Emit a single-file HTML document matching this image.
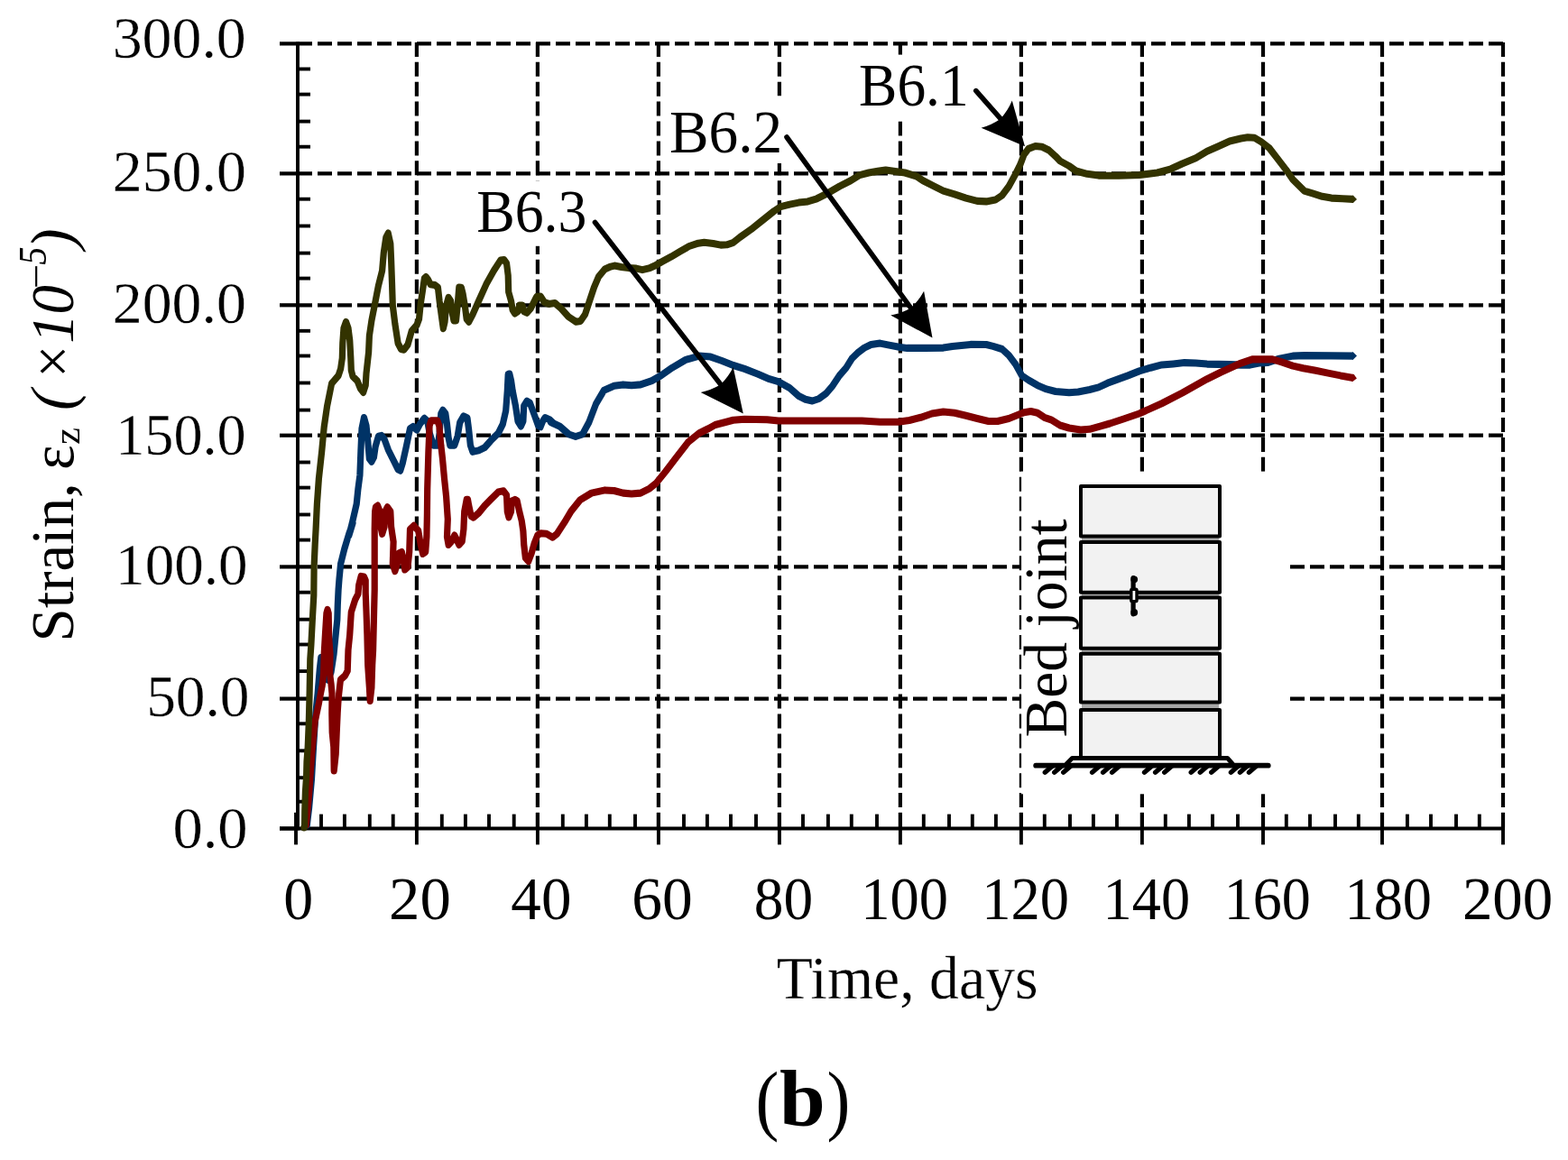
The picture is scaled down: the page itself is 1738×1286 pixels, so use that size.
<!DOCTYPE html>
<html lang="en"><head><meta charset="utf-8"><title>Strain vs time (b)</title>
<style>html,body{margin:0;padding:0;background:#fff}body{width:1738px;height:1286px;overflow:hidden}svg{display:block}text{font-family:"Liberation Serif","DejaVu Serif",serif;fill:#000}</style></head><body>
<svg width="1738" height="1286" viewBox="0 0 1738 1286">
<rect width="1738" height="1286" fill="#fff"/>
<g stroke="#000" stroke-width="4.2" stroke-dasharray="16 6" fill="none">
<line x1="330" y1="774.6" x2="1668" y2="774.6"/>
<line x1="330" y1="628.4" x2="1668" y2="628.4"/>
<line x1="330" y1="482.7" x2="1668" y2="482.7"/>
<line x1="330" y1="338.3" x2="1668" y2="338.3"/>
<line x1="330" y1="192.4" x2="1668" y2="192.4"/>
<line x1="330" y1="48.4" x2="1668" y2="48.4"/>
</g>
<g stroke="#000" stroke-width="4.2" stroke-dasharray="16 5.9" fill="none">
<line x1="461.9" y1="46.9" x2="461.9" y2="918.5"/>
<line x1="595.9" y1="46.9" x2="595.9" y2="918.5"/>
<line x1="729.9" y1="46.9" x2="729.9" y2="918.5"/>
<line x1="863.9" y1="46.9" x2="863.9" y2="918.5"/>
<line x1="997.9" y1="46.9" x2="997.9" y2="918.5"/>
<line x1="1131.9" y1="46.9" x2="1131.9" y2="918.5"/>
<line x1="1265.9" y1="46.9" x2="1265.9" y2="918.5"/>
<line x1="1400" y1="46.9" x2="1400" y2="918.5"/>
<line x1="1532" y1="46.9" x2="1532" y2="918.5"/>
<line x1="1666" y1="46.9" x2="1666" y2="918.5"/>
</g>
<g fill="#fff">
<rect x="945" y="60.6" width="135" height="73.8"/>
<rect x="740" y="106.3" width="130" height="74.7"/>
<rect x="525" y="200.3" width="130" height="72.5"/>
<rect x="1132.1" y="522.8" width="296" height="357.5"/>
</g>
<g stroke="#000" stroke-width="3.9" fill="none">
<line x1="330" y1="46.4" x2="330" y2="920.4"/>
<line x1="310" y1="918.5" x2="1668" y2="918.5"/>
<line x1="310" y1="48.4" x2="330" y2="48.4" stroke-width="4.2"/>
<line x1="330" y1="76.5" x2="344" y2="76.5"/>
<line x1="330" y1="104.6" x2="344" y2="104.6"/>
<line x1="330" y1="134.6" x2="344" y2="134.6"/>
<line x1="330" y1="162.7" x2="344" y2="162.7"/>
<line x1="310" y1="192.4" x2="330" y2="192.4" stroke-width="4.2"/>
<line x1="330" y1="220.7" x2="344" y2="220.7"/>
<line x1="330" y1="250.5" x2="344" y2="250.5"/>
<line x1="330" y1="280.6" x2="344" y2="280.6"/>
<line x1="330" y1="308.6" x2="344" y2="308.6"/>
<line x1="310" y1="338.3" x2="330" y2="338.3" stroke-width="4.2"/>
<line x1="330" y1="366.8" x2="344" y2="366.8"/>
<line x1="330" y1="394.5" x2="344" y2="394.5"/>
<line x1="330" y1="424.5" x2="344" y2="424.5"/>
<line x1="330" y1="454.6" x2="344" y2="454.6"/>
<line x1="310" y1="482.7" x2="330" y2="482.7" stroke-width="4.2"/>
<line x1="330" y1="512.5" x2="344" y2="512.5"/>
<line x1="330" y1="540.6" x2="344" y2="540.6"/>
<line x1="330" y1="570.5" x2="344" y2="570.5"/>
<line x1="330" y1="598.6" x2="344" y2="598.6"/>
<line x1="310" y1="628.4" x2="330" y2="628.4" stroke-width="4.2"/>
<line x1="330" y1="656.7" x2="344" y2="656.7"/>
<line x1="330" y1="686.7" x2="344" y2="686.7"/>
<line x1="330" y1="714.5" x2="344" y2="714.5"/>
<line x1="330" y1="744.1" x2="344" y2="744.1"/>
<line x1="310" y1="774.6" x2="330" y2="774.6" stroke-width="4.2"/>
<line x1="330" y1="802.3" x2="344" y2="802.3"/>
<line x1="330" y1="832.3" x2="344" y2="832.3"/>
<line x1="330" y1="862.2" x2="344" y2="862.2"/>
<line x1="330" y1="888.7" x2="344" y2="888.7"/>
<line x1="310" y1="918.5" x2="330" y2="918.5" stroke-width="4.2"/>
<line x1="328" y1="900.8" x2="328" y2="936.4"/>
<line x1="461.9" y1="900.8" x2="461.9" y2="936.4"/>
<line x1="595.9" y1="900.8" x2="595.9" y2="936.4"/>
<line x1="729.9" y1="900.8" x2="729.9" y2="936.4"/>
<line x1="863.9" y1="900.8" x2="863.9" y2="936.4"/>
<line x1="997.9" y1="900.8" x2="997.9" y2="936.4"/>
<line x1="1131.9" y1="900.8" x2="1131.9" y2="936.4"/>
<line x1="1265.9" y1="900.8" x2="1265.9" y2="936.4"/>
<line x1="1400" y1="900.8" x2="1400" y2="936.4"/>
<line x1="1532" y1="900.8" x2="1532" y2="936.4"/>
<line x1="1666" y1="900.8" x2="1666" y2="936.4"/>
<line x1="356" y1="902.6" x2="356" y2="918.5"/>
<line x1="381.9" y1="902.6" x2="381.9" y2="918.5"/>
<line x1="409.8" y1="902.6" x2="409.8" y2="918.5"/>
<line x1="435.7" y1="902.6" x2="435.7" y2="918.5"/>
<line x1="489.8" y1="902.6" x2="489.8" y2="918.5"/>
<line x1="515.9" y1="902.6" x2="515.9" y2="918.5"/>
<line x1="542" y1="902.6" x2="542" y2="918.5"/>
<line x1="569.7" y1="902.6" x2="569.7" y2="918.5"/>
<line x1="623.8" y1="902.6" x2="623.8" y2="918.5"/>
<line x1="649.9" y1="902.6" x2="649.9" y2="918.5"/>
<line x1="675.8" y1="902.6" x2="675.8" y2="918.5"/>
<line x1="704" y1="902.6" x2="704" y2="918.5"/>
<line x1="758" y1="902.6" x2="758" y2="918.5"/>
<line x1="783.9" y1="902.6" x2="783.9" y2="918.5"/>
<line x1="810" y1="902.6" x2="810" y2="918.5"/>
<line x1="838" y1="902.6" x2="838" y2="918.5"/>
<line x1="890" y1="902.6" x2="890" y2="918.5"/>
<line x1="917.9" y1="902.6" x2="917.9" y2="918.5"/>
<line x1="943.8" y1="902.6" x2="943.8" y2="918.5"/>
<line x1="972" y1="902.6" x2="972" y2="918.5"/>
<line x1="1023.8" y1="902.6" x2="1023.8" y2="918.5"/>
<line x1="1052" y1="902.6" x2="1052" y2="918.5"/>
<line x1="1077.8" y1="902.6" x2="1077.8" y2="918.5"/>
<line x1="1103.9" y1="902.6" x2="1103.9" y2="918.5"/>
<line x1="1157.8" y1="902.6" x2="1157.8" y2="918.5"/>
<line x1="1186" y1="902.6" x2="1186" y2="918.5"/>
<line x1="1211.9" y1="902.6" x2="1211.9" y2="918.5"/>
<line x1="1238" y1="902.6" x2="1238" y2="918.5"/>
<line x1="1291.8" y1="902.6" x2="1291.8" y2="918.5"/>
<line x1="1317.9" y1="902.6" x2="1317.9" y2="918.5"/>
<line x1="1344" y1="902.6" x2="1344" y2="918.5"/>
<line x1="1372" y1="902.6" x2="1372" y2="918.5"/>
<line x1="1425.8" y1="902.6" x2="1425.8" y2="918.5"/>
<line x1="1452" y1="902.6" x2="1452" y2="918.5"/>
<line x1="1480" y1="902.6" x2="1480" y2="918.5"/>
<line x1="1505.8" y1="902.6" x2="1505.8" y2="918.5"/>
<line x1="1559.9" y1="902.6" x2="1559.9" y2="918.5"/>
<line x1="1586" y1="902.6" x2="1586" y2="918.5"/>
<line x1="1614" y1="902.6" x2="1614" y2="918.5"/>
<line x1="1639.8" y1="902.6" x2="1639.8" y2="918.5"/>
</g>
<g fill="none" stroke="#003366" stroke-width="7.2" stroke-linejoin="round" stroke-linecap="butt" transform="scale(1 1.12)"><path d="M340.3,816.79 L342.6,799.55 L345.4,771.79 L347.2,744.02 L349.9,705.98 L352.1,686.52 L354.3,662.5 L355.8,650.89 L359.5,658.93 L363.5,672.95 L367,665.18 L370,647.59 L372,629.46 L373.8,613.39 L374.3,598.48 L375.1,583.57 L376,573.12 L377.6,558.21 L381.8,543.21 L386.8,528.3 L391,517.77 L386.8,530 L390.2,518.3 L395.2,498.93 L396.9,484.02 L398.9,470.54 L399.9,446.7 L401,424.29 L403.5,413.39 L406,421.34 L407.7,436.25 L409.4,454.11 L411.9,456.87 L414.4,452.68 L416.1,442.23 L419.4,431.79 L422.8,431.16 L426.1,434.73 L430.3,445.18 L435.3,454.11 L441.1,464.55 L443.7,465.8 L446.2,458.66 L450.3,442.23 L454.5,424.29 L457.9,422.23 L462,425.54 L465.4,419.82 L470.4,414.02 L473.7,416.87 L476.2,428.75 L480.4,440.71 L485.4,440.71 L487.1,428.75 L488.8,409.37 L490.8,405.98 L493.8,409.37 L495.5,419.82 L497.1,433.21 L498.8,440.71 L503.8,440.71 L507.2,431.79 L509.7,418.3 L513.9,411.87 L518,413.84 L519.7,425.8 L521.4,440.71 L523.9,447.18 L530.6,445.89 L537.3,442.95 L543.9,436.25 L552.3,428.75 L557.3,419.82 L560.7,406.43 L562.3,386.96 L563.2,370.54 L564.8,370.09 L566.5,376.52 L568.2,386.96 L571.5,401.88 L574,416.87 L577.4,421.79 L579.9,416.87 L580.7,401.88 L584.1,396.96 L587.4,398.93 L592.4,410.89 L596.6,421.34 L599.1,422.5 L601.6,416.87 L604.1,413.39 L609.1,415.36 L614.1,419.55 L610.5,417.86 L620.6,422.14 L630.6,429.91 L638,432.14 L645.6,429.91 L653,417.68 L660.6,399.73 L669.4,386.34 L680.7,381.87 L690.7,380.71 L700,381.43 L710,380.71 L722.5,376.96 L732.6,371.79 L745,364.02 L760,356.16 L775,352.32 L787.7,353.21 L800.2,357.14 L812.7,361.61 L825.2,365.09 L840.2,370.27 L852.8,375.18 L862.8,377.86 L875.3,384.11 L885.3,391.96 L892.8,395.27 L900.4,396.87 L907.9,394.64 L915.4,389.73 L922.9,381.87 L930.4,371.79 L937.9,364.02 L944.2,355 L950.4,349.46 L958,344.29 L965.5,341.07 L975.5,339.82 L985.5,341.61 L998,343.75 L1005.5,344.55 L1025.6,344.55 L1045.6,344.29 L1055.6,342.77 L1075.7,340.98 L1093.2,341.07 L1100.7,342.77 L1110.7,345.54 L1118.2,351.7 L1125.7,360.62 L1132.6,371.79 L1140,376.25 L1150,381.43 L1160,385.18 L1170,387.5 L1185,388.57 L1195,387.95 L1207.7,385.71 L1217.7,383.39 L1227.7,379.2 L1240,375.18 L1250.3,371.79 L1262.8,367.32 L1275.3,364.02 L1287.8,361.07 L1300.4,360.18 L1312.9,359.02 L1325.4,359.46 L1337.9,360.36 L1363,360.8 L1375.5,361.25 L1385.5,361.25 L1395.5,359.46 L1405.5,358.84 L1418,355 L1433,352.32 L1445.6,351.88 L1475.7,352.14 L1500,352.32"/></g><ellipse cx="340.3" cy="914.8" rx="3.6" ry="4.03" fill="#003366"/><polygon points="1498.8,398.6 1500.0,398.6 1504.0,394.6 1500.0,390.6 1498.8,390.6" fill="#003366"/>
<g fill="none" stroke="#800000" stroke-width="7.2" stroke-linejoin="round" stroke-linecap="butt" transform="scale(1 1.12)"><path d="M339.4,816.52 L342.6,785.71 L345.9,744.02 L349.1,714.29 L353.4,696.25 L355.4,686.52 L357.2,678.57 L358.6,667.05 L359.2,647.59 L360.3,630.09 L361.9,607.14 L363,603.39 L364.2,607.14 L364.6,630.09 L366,647.59 L365.6,667.05 L367,676.79 L368,686.52 L367.8,705.98 L368.2,725 L369.8,739.29 L370.2,762.95 L372.2,746.43 L373.2,725 L374.2,705.36 L374.8,696.43 L375.7,686.52 L377.4,672.95 L382.6,668.57 L385.2,664.11 L386,643.21 L387.7,628.3 L389.3,605.89 L393.5,594.02 L396.9,588.04 L397.7,579.11 L400.2,570.45 L403.5,570.94 L405.2,574.55 L405.2,586.52 L406,604.46 L406.9,628.3 L407.7,658.12 L409.4,680.54 L410.2,693.75 L411.9,680.54 L412.7,658.12 L413.6,643.21 L414.4,613.39 L415.2,583.57 L415.2,553.66 L415.2,523.84 L415.6,506.34 L416.4,501.88 L418.6,500.54 L421.1,506.34 L421.9,521.34 L423.6,528.48 L426.1,521.34 L426.9,506.34 L429.4,502.05 L432.8,506.34 L433.6,521.34 L436.1,536.25 L435.3,558.21 L437.8,565.36 L440.3,558.21 L442,547.77 L445.3,546.34 L447,553.66 L448.7,563.84 L452,561.16 L453.7,546.25 L454.5,523.84 L458.7,520.27 L463.7,525.36 L466.2,538.75 L468.7,548.21 L471.7,546.25 L472.9,531.34 L473.4,508.93 L473.7,484.02 L474.9,446.7 L476.1,421.34 L477.8,416.25 L484.8,416.25 L486.8,421.34 L488.8,440.71 L490.5,454.11 L492.5,473.57 L494.6,491.43 L496.3,513.84 L495.5,531.34 L497.1,539.29 L500.5,535.8 L503.8,530 L506.3,534.29 L508.8,539.29 L512.2,535.8 L513.9,523.84 L514.7,506.34 L517.2,494.46 L518.5,494.55 L519.7,500.45 L522.2,510.89 L524.7,512.19 L530.6,507.86 L537.3,500.45 L543.9,494.46 L552.3,486.96 L558.1,485.94 L561.5,490 L562.3,506.34 L564,512.05 L566.5,506.34 L567.3,495.89 L570.7,494.55 L573.2,495.89 L575.7,506.34 L578.2,515.36 L579.9,525.8 L580.7,538.75 L582.4,552.23 L585.7,555.62 L589.1,547.77 L592.4,537.32 L595.8,529.82 L599.1,527.86 L605.8,528.3 L612.5,531.92 L617.5,528.3 L625.6,517.14 L633,505.98 L643,494.82 L655.6,488.04 L670.6,485.18 L680.7,485.71 L690.7,488.04 L700,488.75 L710,488.04 L720,483.57 L727.5,478.04 L737.6,466.87 L750,452.32 L762.6,437.77 L775,428.84 L785,424.37 L792.7,420.54 L805.2,417.68 L812.7,415.89 L825.2,415 L850.3,415.45 L862.8,416.52 L955.4,416.52 L975.5,417.68 L995.5,417.68 L1008,416.07 L1020.6,413.21 L1033,409.37 L1045.6,407.59 L1058.1,408.66 L1070.7,411.43 L1083.2,414.29 L1095.7,416.96 L1105.7,416.96 L1118.2,414.29 L1135,408.21 L1142.6,407.14 L1150,408.66 L1157.6,413.21 L1165,415.45 L1175,420.98 L1185,423.66 L1197.7,425.45 L1207.7,424.82 L1220.2,421.7 L1230.2,419.2 L1245.3,414.73 L1262.8,409.37 L1287.8,399.29 L1310.4,389.02 L1337.9,375.18 L1353,368.48 L1375.5,359.46 L1388,355.71 L1410.5,355.71 L1420.6,358.39 L1433,362.14 L1444.5,364.55 L1458.3,366.79 L1472.1,369.29 L1485.9,371.79 L1500,374.02"/></g><ellipse cx="339.4" cy="914.5" rx="3.6" ry="4.03" fill="#800000"/><polygon points="1498.1,422.7 1499.3,422.9 1503.9,419.6 1500.7,414.9 1499.5,414.7" fill="#800000"/>
<g fill="none" stroke="#333300" stroke-width="7.2" stroke-linejoin="round" stroke-linecap="butt" transform="scale(1 1.12)"><path d="M337,819.2 L337.6,817.14 L337.8,802.59 L338.5,783.12 L339.6,768.57 L340,753.93 L341.2,739.38 L342.3,715.09 L343.1,686.52 L343.8,652.5 L344.9,637.86 L346.3,613.57 L347.8,589.29 L348.1,561.16 L349.2,538.75 L350.1,523.84 L351.4,498.93 L353.4,473.57 L356.7,446.7 L359.2,422.77 L362.6,401.88 L367.6,379.55 L370.1,376.96 L375.1,371.79 L377.6,365 L379.3,354.55 L379.8,339.64 L381,324.73 L383.5,318.66 L386,324.73 L387.7,336.7 L388.8,354.55 L389.3,366.52 L391,372.5 L396,376.96 L399.4,384.46 L402.7,388.3 L405.2,381.43 L406,369.55 L408.6,348.66 L409.4,332.23 L411.9,317.32 L415.2,302.32 L419.4,282.95 L423.6,268.04 L425.3,250.09 L427.8,235.18 L430.3,230.89 L432.8,241.16 L433.6,257.59 L434.5,280 L435.3,302.32 L437.8,320.27 L441.1,339.64 L444.5,345.62 L447.8,346.24 L452,341.16 L456.2,327.77 L462,321.79 L464.5,315.8 L466.2,300.89 L468.7,285.98 L470.4,275.54 L472.1,274.11 L474.6,276.96 L477.1,281.43 L482.1,282.23 L485.4,284.46 L487.1,297.86 L489.6,314.29 L491.3,325.18 L493,318.75 L494.6,302.32 L497.1,294.46 L499.6,297.86 L501.3,309.82 L503,317.32 L505.5,317.32 L507.2,302.32 L508.8,284.46 L511.3,284.55 L513,290.45 L515.5,303.84 L517.2,315.8 L519.7,318.48 L523.9,311.34 L530.6,297.86 L538.9,281.43 L547.3,268.04 L554.8,257.59 L558.6,257.11 L561.5,260.54 L563.2,272.5 L563.7,288.93 L566.5,297.86 L568.2,306.87 L570.7,310.27 L574,308.3 L575.7,302.23 L579,302.32 L580.7,308.3 L584.1,309.65 L588.2,305.36 L594.1,294.91 L595,293.57 L599.2,293.43 L603.4,299.29 L608.4,300.8 L615.1,300 L621.8,305.27 L630.1,313.48 L638.5,318.48 L643.5,317.77 L648.5,311.25 L653.5,297.77 L658.5,284.38 L663.5,273.93 L670.2,266.61 L676.9,263.93 L681.1,263.04 L688.6,264.2 L697,265.27 L705.3,265.71 L712,267.05 L720.4,265.27 L725.4,263.21 L733.7,259.02 L743.8,254.2 L753.8,248.84 L763.8,243.75 L773.9,240.8 L780.5,240 L790.6,241.07 L798.9,242.5 L805.6,242.23 L812.3,240.36 L820.2,234.82 L832.7,226.96 L845.3,217.95 L857.8,209.02 L865.3,204.55 L875.3,202.32 L885.3,200.54 L895.3,199.46 L905.4,196.7 L915.4,192.23 L930.4,184.46 L942.9,178.84 L952.9,173.3 L963,170.98 L973,169.46 L981.7,168.3 L990.5,169.46 L1003,170.98 L1015.6,174.38 L1023.1,178.84 L1035.6,184.46 L1045.6,188.93 L1058.1,192.23 L1070.7,196.07 L1083.2,199.02 L1093.2,199.46 L1103.2,197.86 L1110.7,193.39 L1118.2,184.46 L1125.7,172.14 L1130.7,163.21 L1135,153.12 L1140,147.14 L1147.6,144.64 L1155,145.36 L1162.6,148.66 L1170,154.73 L1175,159.37 L1185,164.29 L1192.7,169.2 L1205,172.14 L1217.7,173.75 L1240,173.93 L1262.8,173.21 L1282.8,170.98 L1297.8,167.23 L1310.4,162.05 L1325.4,156.52 L1337.9,149.82 L1350.4,144.91 L1363,139.73 L1375.5,137.05 L1383,135.89 L1390.5,136.34 L1398,140.36 L1406.8,146.43 L1415.6,156.52 L1425.6,168.12 L1433,177.68 L1445.6,188.93 L1455.6,191.61 L1465.6,194.46 L1475.7,196.07 L1488.2,196.7 L1500,197.23"/></g><ellipse cx="337" cy="917.5" rx="3.6" ry="4.03" fill="#333300"/><polygon points="1498.6,224.9 1499.8,224.9 1504.0,221.1 1500.2,216.9 1499.0,216.8" fill="#333300"/>
<line x1="1081.8" y1="100.6" x2="1110.4" y2="133.2" stroke="#000" stroke-width="5.6" stroke-linecap="round"/><path d="M1136.0,162.3 L1087.6,141.7 Q1098.8,138.7 1109.1,131.7 Q1117.4,122.3 1121.8,111.6 Z" fill="#000"/>
<line x1="872" y1="152" x2="1010.8" y2="343.2" stroke="#000" stroke-width="5.6" stroke-linecap="round"/><path d="M1033.5,374.5 L987.2,349.6 Q998.7,347.6 1009.6,341.5 Q1018.7,333.0 1024.1,322.8 Z" fill="#000"/>
<line x1="659.5" y1="246.5" x2="800.0" y2="427.8" stroke="#000" stroke-width="5.6" stroke-linecap="round"/><path d="M823.8,458.4 L776.7,434.9 Q788.1,432.6 798.8,426.2 Q807.7,417.4 812.7,407.0 Z" fill="#000"/>
<text transform="translate(952.10 116.90) scale(0.9326 1)" font-size="68px">B6.1</text>
<text transform="translate(742.04 168.80) scale(0.9606 1)" font-size="68px">B6.2</text>
<text transform="translate(528.19 256.80) scale(0.9377 1)" font-size="68px">B6.3</text>
<text transform="translate(124.67 63.90) scale(1.0003 1)" font-size="65.8px" stroke="#fff" stroke-width="0.3">300.0</text>
<text transform="translate(124.84 212.20) scale(0.9991 1)" font-size="65.8px" stroke="#fff" stroke-width="0.3">250.0</text>
<text transform="translate(124.84 358.30) scale(0.9991 1)" font-size="65.8px" stroke="#fff" stroke-width="0.3">200.0</text>
<text transform="translate(128.18 504.40) scale(0.9762 1)" font-size="65.8px" stroke="#fff" stroke-width="0.3">150.0</text>
<text transform="translate(128.11 648.30) scale(0.9891 1)" font-size="65.8px" stroke="#fff" stroke-width="0.3">100.0</text>
<text transform="translate(162.14 794.40) scale(0.9936 1)" font-size="65.8px" stroke="#fff" stroke-width="0.3">50.0</text>
<text transform="translate(191.40 940.10) scale(1.0114 1)" font-size="65.8px" stroke="#fff" stroke-width="0.3">0.0</text>
<text transform="translate(314.23 1019.10) scale(0.9760 1)" font-size="67.5px">0</text>
<text transform="translate(431.00 1019.10) scale(1.0205 1)" font-size="67.5px">20</text>
<text transform="translate(566.36 1019.10) scale(0.9934 1)" font-size="67.5px">40</text>
<text transform="translate(700.13 1019.10) scale(1.0000 1)" font-size="67.5px">60</text>
<text transform="translate(835.75 1019.10) scale(0.9690 1)" font-size="67.5px">80</text>
<text transform="translate(954.16 1019.10) scale(0.9557 1)" font-size="67.5px">100</text>
<text transform="translate(1088.36 1019.10) scale(0.9557 1)" font-size="67.5px">120</text>
<text transform="translate(1222.57 1019.10) scale(0.9535 1)" font-size="67.5px">140</text>
<text transform="translate(1356.69 1019.10) scale(0.9492 1)" font-size="67.5px">160</text>
<text transform="translate(1490.47 1019.10) scale(0.9535 1)" font-size="67.5px">180</text>
<text transform="translate(1620.89 1019.10) scale(0.9918 1)" font-size="67.5px">200</text>
<text transform="translate(860.75 1106.60) scale(0.9848 1)" font-size="66.8px" stroke="#fff" stroke-width="0.3">Time, days</text>
<g><text transform="translate(80.60 711.51) rotate(-90) scale(0.9766 1)" font-size="68.4px">Strain, </text><text transform="translate(80.60 520.84) rotate(-90) scale(0.9554 1)" font-size="68px">ε</text><text transform="translate(88.00 492.98) rotate(-90) scale(1.0200 1)" font-size="42px">z </text><text transform="translate(80.60 454.89) rotate(-90) scale(1.0192 1)" font-size="67px" font-style="italic">(</text><text transform="translate(80.60 422.68) rotate(-90) scale(0.9508 1)" font-size="67px" font-style="italic">×</text><text transform="translate(80.60 380.87) rotate(-90) scale(0.9472 1)" font-size="68.5px" font-style="italic">10</text><text transform="translate(54.60 323.19) rotate(-90) scale(1.1046 1)" font-size="44px" font-style="italic">−</text><text transform="translate(50.80 293.60) rotate(-90) scale(0.9041 1)" font-size="44px" font-style="italic">5</text><text transform="translate(80.60 276.16) rotate(-90) scale(1.0192 1)" font-size="67px" font-style="italic">)</text></g>
<text transform="translate(1182.40 817.57) rotate(-90) scale(0.9746 1)" font-size="67.3px">Bed joint</text>
<g><text transform="translate(837.61 1248.00) scale(0.8925 1)" font-size="87px">(</text><text transform="translate(864.06 1248.30) scale(1.0195 1)" font-size="89.6px" font-weight="bold">b</text><text transform="translate(916.58 1248.00) scale(0.8928 1)" font-size="87px">)</text></g>
<rect x="1199" y="592" width="152" height="196" fill="#a6a6a6"/>
<g stroke="#000" stroke-width="4" fill="#f2f2f2" stroke-linejoin="round">
<rect x="1198" y="539.1" width="154" height="55.4"/>
<rect x="1198" y="600.9" width="154" height="55.9"/>
<rect x="1198" y="662.5" width="154" height="56.2"/>
<rect x="1198" y="724.8" width="154" height="53.7"/>
<rect x="1198" y="786.9" width="154" height="53.7"/>
</g>
<g stroke="#000" fill="none" stroke-linecap="round">
<line x1="1256.1" y1="640.5" x2="1256.1" y2="680.8" stroke-width="5.2"/>
<circle cx="1257.2" cy="642.3" r="2.6" fill="#000" stroke-width="2.6"/>
<circle cx="1257.2" cy="678.9" r="2.6" fill="#000" stroke-width="2.6"/>
<rect x="1253.8" y="653.2" width="6.2" height="13.4" rx="1.2" fill="#fff" stroke-width="3.4"/>
</g>
<g stroke="#000" fill="none" stroke-linecap="round" stroke-linejoin="round">
<path d="M1182.5,846.5 L1188.5,840.4 L1360.5,840.4 L1365.8,846.5" stroke-width="5"/>
<line x1="1148.2" y1="848.7" x2="1405.7" y2="848.7" stroke-width="5.8"/>
<path d="M1167,848.7 L1158.3,856.2 M1177.4,848.7 L1168.7,856.2 M1187.4,848.7 L1178.7,856.2 M1219.3,848.7 L1210.6,856.2 M1231.3,848.7 L1222.6,856.2 M1241.3,848.7 L1232.6,856.2 M1277.2,848.7 L1268.5,856.2 M1289.3,848.7 L1280.6,856.2 M1299.4,848.7 L1290.7,856.2 M1328.9,848.7 L1320.2,856.2 M1338.9,848.7 L1330.2,856.2 M1351.4,848.7 L1342.7,856.2 M1373.1,848.7 L1364.4,856.2 M1383.1,848.7 L1374.4,856.2 M1393.1,848.7 L1384.4,856.2" stroke-width="5.3"/>
</g>
</svg></body></html>
